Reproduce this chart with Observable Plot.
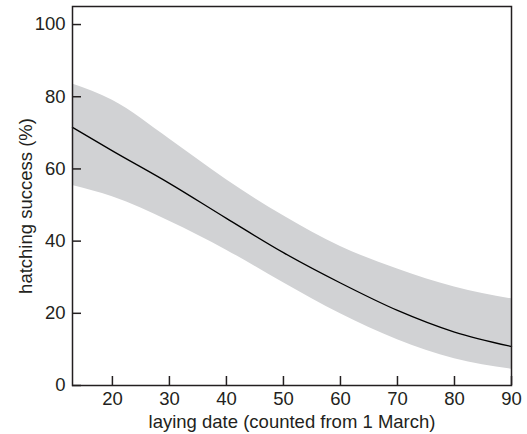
<!DOCTYPE html>
<html>
<head>
<meta charset="utf-8">
<script src="https://cdn.jsdelivr.net/npm/d3@7"></script>
<script src="https://cdn.jsdelivr.net/npm/@observablehq/plot@0.6"></script>
<style>
  html, body { margin: 0; padding: 0; background: #fff; }
  svg { display: block; }
</style>
</head>
<body>
<div id="chart"></div>
<script>
const days = [13, 20, 30, 40, 50, 60, 70, 80, 90];
const fit = [71.5, 65, 56, 46.3, 36.8, 28.4, 20.8, 14.8, 10.8];
const upper = [83.5, 79, 68.3, 57, 47, 38.5, 32.3, 27.3, 24];
const lower = [55.4, 52.3, 45.5, 37.5, 28.5, 19.9, 12.7, 7.4, 4.5];
const xTicks = [20, 30, 40, 50, 60, 70, 80, 90];
const yTicks = [0, 20, 40, 60, 80, 100];
const xLabel = "laying date (counted from 1 March)";
const yLabel = "hatching success (%)";

const data = days.map((d, i) => ({day: d, fit: fit[i], lo: lower[i], hi: upper[i]}));
const ink = "#231f20";
const fs = 18.5;

const chart = Plot.plot({
  width: 527,
  height: 434,
  marginTop: 6,
  marginRight: 16,
  marginBottom: 49,
  marginLeft: 72,
  style: {fontFamily: "'Liberation Sans', Arial, sans-serif", fontSize: fs + "px", color: ink, background: "#fff"},
  x: {domain: [13, 90]},
  y: {domain: [0, 105]},
  marks: [
    Plot.areaY(data, {x: "day", y1: "lo", y2: "hi", fill: "#d1d2d4", curve: "monotone-x"}),
    Plot.line(data, {x: "day", y: "fit", stroke: "#000", strokeWidth: 1.3, curve: "monotone-x"}),
    Plot.axisX({ticks: xTicks, tickSize: -9, text: null, label: null, stroke: ink, strokeWidth: 1.5}),
    Plot.axisX({ticks: xTicks, tickSize: 0, tickPadding: 6, label: null, fill: ink, fontSize: fs}),
    Plot.axisY({ticks: yTicks, tickSize: -9, text: null, label: null, stroke: ink, strokeWidth: 1.5}),
    Plot.axisY({ticks: yTicks, tickSize: 0, tickPadding: 7, label: null, fill: ink, fontSize: fs}),
    Plot.text([xLabel], {frameAnchor: "bottom", lineAnchor: "middle", dy: 37, fill: ink, fontSize: fs}),
    Plot.text([yLabel], {frameAnchor: "left", textAnchor: "middle", lineAnchor: "middle", rotate: -90, dx: -46, dy: 10, fill: ink, fontSize: fs}),
    Plot.frame({stroke: ink, strokeWidth: 1.5})
  ]
});
document.getElementById("chart").appendChild(chart);
</script>
</body>
</html>
